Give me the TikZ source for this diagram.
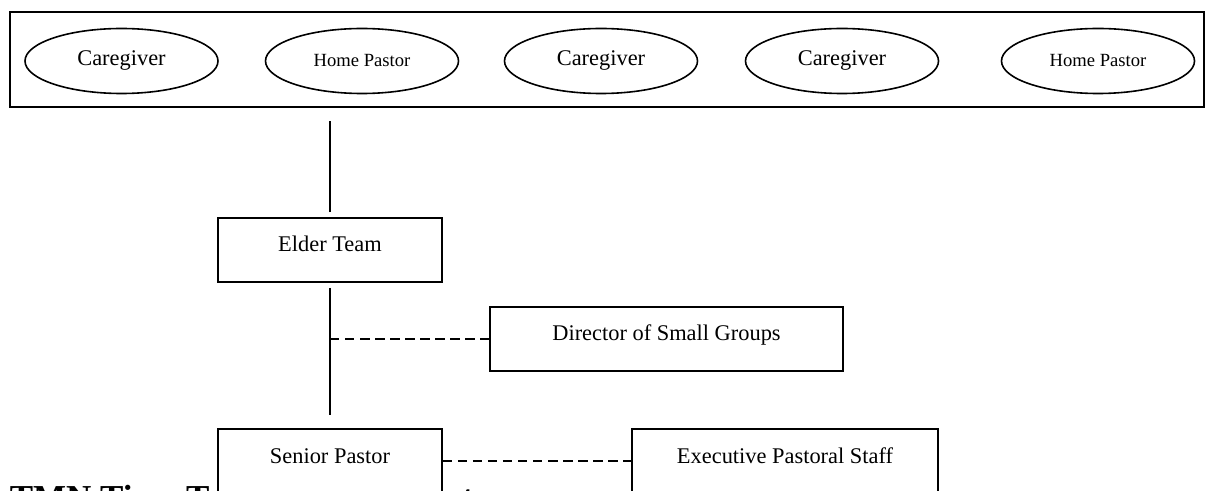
\documentclass[tikz,border=0pt]{standalone}
\usepackage{fontspec}
\setmainfont{Liberation Serif}
\usetikzlibrary{shapes.geometric}

\begin{document}
\begin{tikzpicture}[x=0.5pt,y=-0.5pt,line width=0.8pt]
    \tikzstyle{member} = [draw,ellipse,minimum width=96.5pt,minimum height=32.5pt,inner sep=0pt,font=\fontsize{11.2}{13}\selectfont]
    \tikzstyle{small} = [font=\fontsize{9.3}{11}\selectfont]
    \tikzstyle{office} = [draw,fill=white,rectangle,inner sep=0pt,text height=17pt,text depth=15pt,font=\fontsize{11.2}{13}\selectfont]
    \tikzstyle{link} = [dash pattern=on 4.72pt off 2.8pt]
    \useasboundingbox (0,0) rectangle (1208,491);
    \clip (0,0) rectangle (1208,491);
      \node[draw,rectangle,minimum width=597pt,minimum height=47.5pt,inner sep=0pt] (groups) at (607,59.5) {};
      \node[member] (care1) at (121.5,61) {Caregiver};
      \node[member,small] (pastor1) at (362,61) {Home Pastor};
      \node[member] (care2) at (601,61) {Caregiver};
      \node[member] (care3) at (842,61) {Caregiver};
      \node[member,small] (pastor2) at (1098,61) {Home Pastor};
      % heading runs under the boxes and off the page
      \node[anchor=base west,inner sep=0pt,font=\fontsize{17.5}{20}\selectfont\bfseries] (title) at (9,509) {TMN Time Team Management};
      \node[office,minimum width=112pt] (elder) at (330,250) {Elder Team};
      \node[office,minimum width=176.5pt] (director) at (666.5,339) {Director of Small Groups};
      \node[office,minimum width=112pt] (senior) at (330,461) {Senior Pastor};
      \node[office,minimum width=153pt] (exec) at (785,461) {Executive Pastoral Staff};
      \draw ([yshift=2.5pt]elder.north) -- ++(0,-91);
      \draw ([yshift=-2.5pt]elder.south) -- ([yshift=6.5pt]senior.north);
      \draw[link] (director.west -| elder.south) -- (director.west);
      \draw[link] (senior.east) -- (exec.west);
  \end{tikzpicture}
\end{document}
